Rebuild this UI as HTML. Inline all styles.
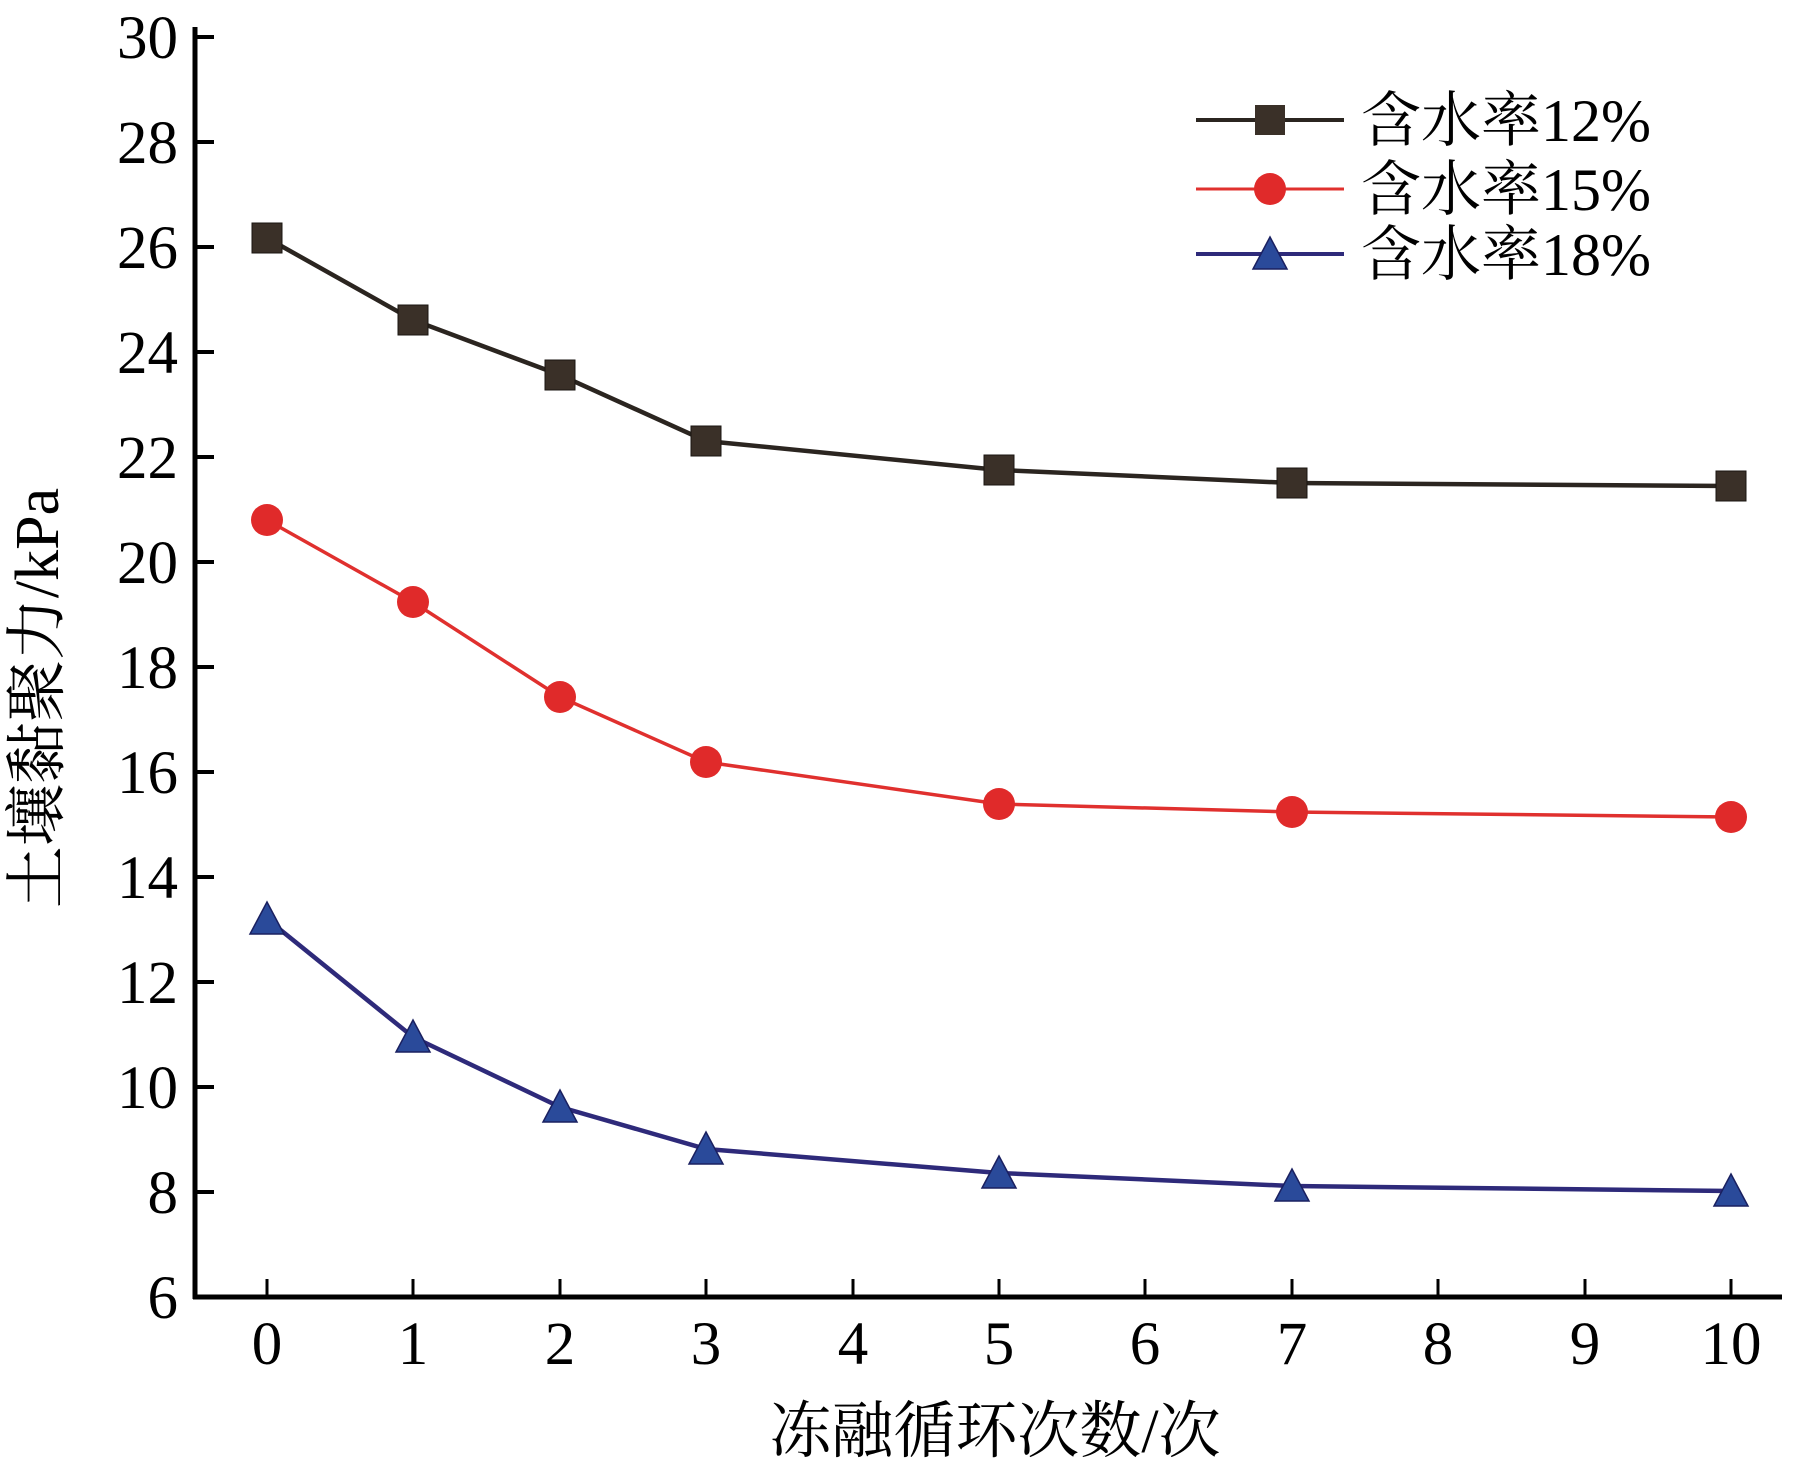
<!DOCTYPE html>
<html><head><meta charset="utf-8"><style>html,body{margin:0;padding:0;background:#fff}</style></head><body>
<svg width="1794" height="1470" xmlns="http://www.w3.org/2000/svg" font-family="Liberation Serif, 'Noto Serif CJK SC', serif">
<rect width="1794" height="1470" fill="#fff"/>
<g stroke="#000" stroke-width="5" fill="none">
<line x1="195" y1="27" x2="195" y2="1299"/>
<line x1="193" y1="1297" x2="1782" y2="1297"/>
</g>
<g stroke="#000" stroke-width="4">
<line x1="195" y1="37" x2="214" y2="37"/><line x1="195" y1="142" x2="214" y2="142"/><line x1="195" y1="247" x2="214" y2="247"/><line x1="195" y1="352" x2="214" y2="352"/><line x1="195" y1="457" x2="214" y2="457"/><line x1="195" y1="562" x2="214" y2="562"/><line x1="195" y1="667" x2="214" y2="667"/><line x1="195" y1="772" x2="214" y2="772"/><line x1="195" y1="877" x2="214" y2="877"/><line x1="195" y1="982" x2="214" y2="982"/><line x1="195" y1="1087" x2="214" y2="1087"/><line x1="195" y1="1192" x2="214" y2="1192"/>
</g>
<g stroke="#000" stroke-width="3">
<line x1="267" y1="1297" x2="267" y2="1279"/><line x1="413" y1="1297" x2="413" y2="1279"/><line x1="560" y1="1297" x2="560" y2="1279"/><line x1="706" y1="1297" x2="706" y2="1279"/><line x1="853" y1="1297" x2="853" y2="1279"/><line x1="999" y1="1297" x2="999" y2="1279"/><line x1="1145" y1="1297" x2="1145" y2="1279"/><line x1="1292" y1="1297" x2="1292" y2="1279"/><line x1="1438" y1="1297" x2="1438" y2="1279"/><line x1="1585" y1="1297" x2="1585" y2="1279"/><line x1="1731" y1="1297" x2="1731" y2="1279"/>
</g>
<g font-size="61" text-anchor="end" fill="#000">
<text x="178" y="58">30</text><text x="178" y="163">28</text><text x="178" y="268">26</text><text x="178" y="373">24</text><text x="178" y="478">22</text><text x="178" y="583">20</text><text x="178" y="688">18</text><text x="178" y="793">16</text><text x="178" y="898">14</text><text x="178" y="1003">12</text><text x="178" y="1108">10</text><text x="178" y="1213">8</text><text x="178" y="1318">6</text>
</g>
<g font-size="61" text-anchor="middle" fill="#000">
<text x="267" y="1364">0</text><text x="413" y="1364">1</text><text x="560" y="1364">2</text><text x="706" y="1364">3</text><text x="853" y="1364">4</text><text x="999" y="1364">5</text><text x="1145" y="1364">6</text><text x="1292" y="1364">7</text><text x="1438" y="1364">8</text><text x="1585" y="1364">9</text><text x="1731" y="1364">10</text>
</g>
<text x="995" y="1452" font-size="62" text-anchor="middle">冻融循环次数/次</text>
<text transform="translate(58,698) rotate(-90)" font-size="62" text-anchor="middle">土壤黏聚力/kPa</text>
<polyline fill="none" stroke="#2b2520" stroke-width="4.5" points="267,238 413,320 560,375 706,441 999,470 1292,483 1731,486"/>
<g fill="#3a3028" stroke="#1a1510" stroke-width="1">
<rect x="252" y="223" width="30" height="30"/><rect x="398" y="305" width="30" height="30"/><rect x="545" y="360" width="30" height="30"/><rect x="691" y="426" width="30" height="30"/><rect x="984" y="455" width="30" height="30"/><rect x="1277" y="468" width="30" height="30"/><rect x="1716" y="471" width="30" height="30"/>
</g>
<polyline fill="none" stroke="#e0302e" stroke-width="3.5" points="267,520 413,602 560,697 706,762 999,804 1292,812 1731,817"/>
<g fill="#e02a2a">
<circle cx="267" cy="520" r="16"/><circle cx="413" cy="602" r="16"/><circle cx="560" cy="697" r="16"/><circle cx="706" cy="762" r="16"/><circle cx="999" cy="804" r="16"/><circle cx="1292" cy="812" r="16"/><circle cx="1731" cy="817" r="16"/>
</g>
<polyline fill="none" stroke="#2e2a7a" stroke-width="4.5" points="267,919 413,1037 560,1107 706,1149 999,1173 1292,1186 1731,1191"/>
<g fill="#2a4a9a" stroke="#1a2060" stroke-width="1.5">
<polygon points="267,902 250,934 284,934"/><polygon points="413,1020 396,1052 430,1052"/><polygon points="560,1090 543,1122 577,1122"/><polygon points="706,1132 689,1164 723,1164"/><polygon points="999,1156 982,1188 1016,1188"/><polygon points="1292,1169 1275,1201 1309,1201"/><polygon points="1731,1174 1714,1206 1748,1206"/>
</g>
<line x1="1196" y1="120" x2="1344" y2="120" stroke="#2b2520" stroke-width="4"/>
<rect x="1255" y="105" width="30" height="30" fill="#3a3028"/>
<line x1="1196" y1="189" x2="1344" y2="189" stroke="#e0302e" stroke-width="3"/>
<circle cx="1270" cy="189" r="16" fill="#e02a2a"/>
<line x1="1196" y1="254" x2="1344" y2="254" stroke="#2e2a7a" stroke-width="4"/>
<polygon points="1270,237 1253,269 1287,269" fill="#2a4a9a" stroke="#1a2060" stroke-width="1.5"/>
<g font-size="60" fill="#000">
<text x="1361" y="141">含水率12%</text>
<text x="1361" y="210">含水率15%</text>
<text x="1361" y="275">含水率18%</text>
</g>
</svg>
</body></html>
